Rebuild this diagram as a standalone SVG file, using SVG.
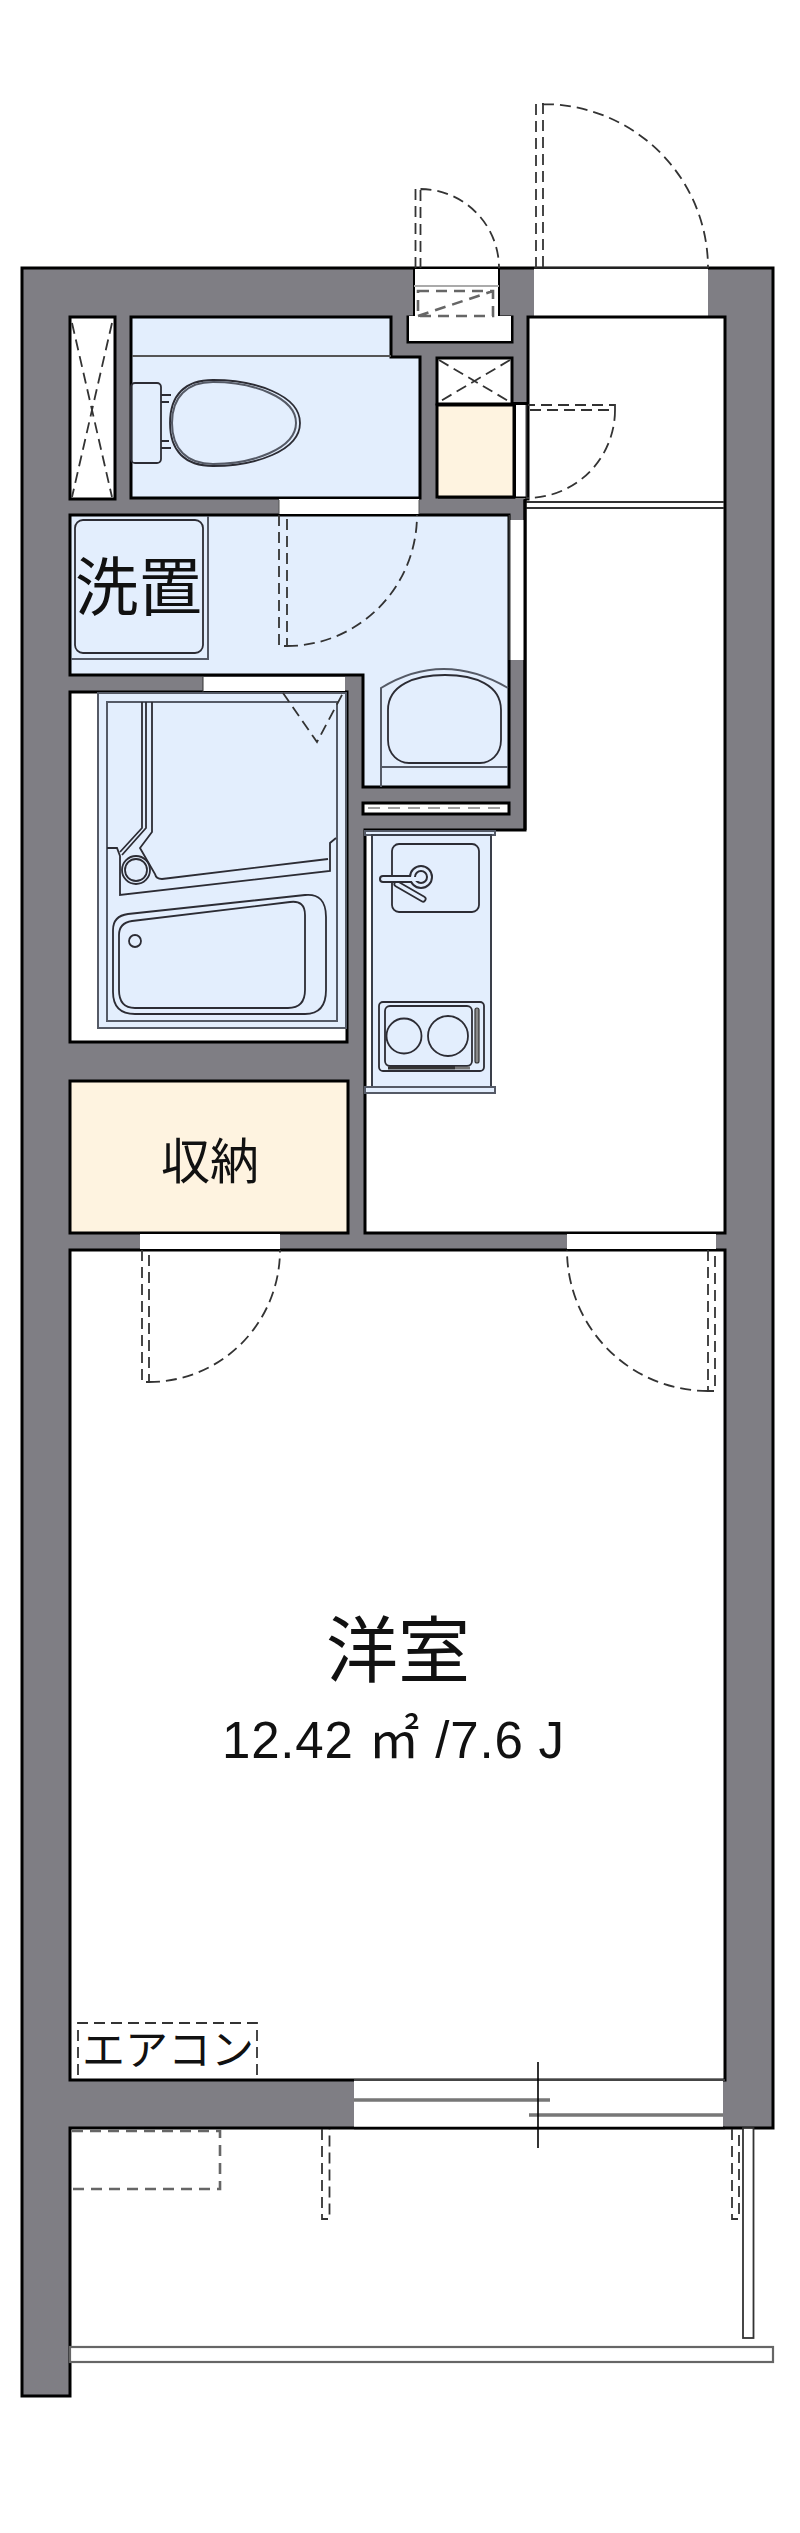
<svg xmlns="http://www.w3.org/2000/svg" width="800" height="2533" viewBox="0 0 800 2533">
<style>
.wall{fill:#7f7e84;stroke:#000;stroke-width:3}
.blue{fill:#e3eefd;stroke:#000;stroke-width:3}
.cream{fill:#fef3e0;stroke:#000;stroke-width:3}
.room{fill:#fff;stroke:#000;stroke-width:3}
.open{fill:#fff;stroke:none}
.dash{fill:none;stroke:#333;stroke-width:1.8;stroke-dasharray:11 6}
.dashg{fill:none;stroke:#666;stroke-width:2.6;stroke-dasharray:11 7}
.fix{fill:none;stroke:#2c2c34;stroke-width:1.8}
.fixg{fill:none;stroke:#555a66;stroke-width:2}
text{font-family:"Noto Sans CJK JP","Liberation Sans",sans-serif;fill:#111}
.num{font-family:"Liberation Sans","Noto Sans CJK JP",sans-serif}
</style>
<rect width="800" height="2533" fill="#fff"/>
<g id="walls">
<path class="wall" d="M22 268H773V2128H70V2396H22Z"/>
</g>
<g id="entrance">
<rect class="open" x="534" y="269" width="174" height="48"/>
<path d="M534 268H708" stroke="#222" stroke-width="2" fill="none"/>
<path class="dash" d="M536 268V104H543V268M543 104A165 164 0 0 1 708 268"/>
</g>
<g id="hall">
<path class="room" d="M528 317H725V1233H365V830H525V499H528Z"/>
<path d="M526 502H724M526 508H724" stroke="#333" stroke-width="1.8"/>
</g>
<g id="utility-niche">
<rect class="open" x="414" y="269" width="85" height="50"/>
<path d="M414 268V317M499 268V317" stroke="#000" stroke-width="2"/>
<path d="M414 286H499" stroke="#aaa" stroke-width="2"/>
<path class="room" d="M414 317H408V342H512V317H499"/>
<rect class="open" x="409" y="316" width="102" height="25"/>
<path class="dashg" d="M418 291H493V316H418ZM418 316L493 291"/>
<path class="dash" d="M415.5 268V189H420.5V268M420.5 189A79 79 0 0 1 499 268"/>
</g>
<g id="shaft-left">
<rect class="room" x="70" y="317" width="45" height="182"/>
<path class="dash" d="M72 323L112 497M112 323L72 497"/>
</g>
<g id="toilet">
<path class="blue" d="M131 317H391V357H420V498H131Z"/>
<path d="M132 356H391" stroke="#555" stroke-width="2"/>
<rect class="fix" x="131" y="383" width="30" height="80" rx="4"/>
<path class="fix" d="M161 395H171M161 402H169M161 448H171M161 441H169"/>
<path class="fix" d="M170 423C170 395 185 380 213 380C255 380 300 395 300 423C300 451 255 466 213 466C185 466 170 451 170 423Z"/>
<path class="fixg" stroke-width="1.2" d="M172 423C172 397 187 382 213 382C252 382 296 397 296 423C296 449 252 464 213 464C187 464 172 449 172 423Z"/>
</g>
<g id="shaft-right">
<rect class="room" x="437" y="358" width="75" height="46"/>
<path class="dash" d="M439 360L510 402M510 360L439 402"/>
</g>
<g id="closet">
<rect class="cream" x="437" y="405" width="77" height="92"/>
<rect class="open" x="515.500" y="403" width="10" height="96"/>
<path d="M526.500 403V499" stroke="#333" stroke-width="1.500"/>
<path d="M512 403.500H528" stroke="#000" stroke-width="3"/>
<path d="M438 497.500H526M515 405V497" stroke="#000" stroke-width="2"/>
<path class="dash" d="M615 410V405H528M530 410H615M615 410A88 88 0 0 1 527 498"/>
</g>
<g id="washroom">
<path class="blue" d="M70 515H509V787H363V675H70Z"/>
<rect class="open" x="510" y="520" width="15" height="140"/>
<path d="M509.500 515V660" stroke="#333" stroke-width="2"/>
<path d="M525 500V830" stroke="#000" stroke-width="3"/>
<rect class="open" x="279" y="499" width="140" height="15"/>
<path d="M279 500V514M419 500V514" stroke="#555" stroke-width="1"/>
<path class="fixg" d="M71 659H208V516"/>
<rect class="fix" x="75" y="520" width="128" height="133" rx="8"/>
<text x="75" y="610" font-size="64" textLength="127" lengthAdjust="spacingAndGlyphs">洗置</text>
<path class="dash" d="M279 515V646H287V515M287 646A130 131 0 0 0 417 515"/>
<path class="fixg" d="M381 787V688Q443 650 508 688"/>
<path class="fix" d="M388 710C388 685 415 675 445 675C475 675 501 685 501 710V740C501 755 490 763 480 763H409C399 763 388 755 388 740Z"/>
<path class="fixg" d="M381 767H508"/>
</g>
<g id="wet-strip">
<rect x="363" y="803" width="146" height="11" fill="#fff" stroke="#000" stroke-width="3"/>
<path d="M368 808H505" stroke="#444" stroke-width="1.200" stroke-dasharray="12 8"/>
</g>
<g id="bath">
<path class="room" d="M70 692H347V1042H70Z"/>
<rect class="open" x="203" y="677" width="142" height="14"/>
<path d="M203 677V692" stroke="#333" stroke-width="1"/>
<rect x="98" y="693" width="248" height="335" fill="#e3eefd" stroke="#555a66" stroke-width="2"/>
<rect class="fixg" x="107" y="702" width="230" height="319"/>
<path class="dash" d="M283 693L317 742L343 693"/>
<path class="fix" d="M142 702V828L120 852M146 702V828L122 855M152 702V832L140 848L155 874Q156 879 162 879L328 859"/>
<path class="fix" d="M107 848H117L120 856V895L330 871V843L336 838"/>
<circle class="fix" cx="136" cy="870" r="14" stroke-width="2.500"/>
<circle class="fix" cx="136" cy="870" r="11"/>
<path class="fix" d="M113 930Q113 916 128 914L305 895Q326 893 326 917V990Q326 1014 305 1014H135Q113 1014 113 992Z"/>
<path class="fix" d="M119 935Q119 923 132 921L290 902Q305 900 305 915V990Q305 1008 288 1008H135Q119 1008 119 990Z"/>
<circle class="fix" cx="135" cy="941" r="6"/>
</g>
<g id="kitchen">
<rect x="365" y="831" width="130" height="4" fill="#e3eefd" stroke="#555a66" stroke-width="2"/>
<rect x="372" y="835" width="119" height="252" fill="#e3eefd" stroke="#3a3f4a" stroke-width="2"/>
<rect x="365" y="1087" width="130" height="6" fill="#e3eefd" stroke="#555a66" stroke-width="2"/>
<rect class="fix" x="392" y="844" width="87" height="68" rx="7"/>
<path d="M397 884L423 899" stroke="#2c2c34" stroke-width="7" stroke-linecap="round"/>
<path d="M397 884L423 899" stroke="#e3eefd" stroke-width="3.500" stroke-linecap="round"/>
<path d="M383 879H417" stroke="#2c2c34" stroke-width="8" stroke-linecap="round"/>
<circle cx="421" cy="877" r="11" fill="#e3eefd" stroke="#2c2c34" stroke-width="2"/>
<circle cx="421" cy="877" r="6" fill="#e3eefd" stroke="#2c2c34" stroke-width="2"/>
<path d="M383 879H418" stroke="#e3eefd" stroke-width="4" stroke-linecap="round"/>
<rect class="fix" x="379" y="1002" width="105" height="69" rx="4" stroke-width="2.200"/>
<rect class="fix" x="385" y="1006" width="87" height="60" rx="5"/>
<circle class="fix" cx="404" cy="1036" r="17.500"/>
<circle class="fix" cx="448" cy="1036" r="20"/>
<rect x="475" y="1008" width="4" height="55" rx="2" fill="#888" stroke="#333" stroke-width="1.200"/>
<path d="M388 1068H455" stroke="#333" stroke-width="3"/>
<path d="M455 1068H470" stroke="#777" stroke-width="3"/>
</g>
<g id="storage">
<rect class="cream" x="70" y="1081" width="278" height="152"/>
<text x="210" y="1179" font-size="49" text-anchor="middle">収納</text>
</g>
<g id="room">
<rect class="room" x="70" y="1250" width="655" height="830"/>
<rect class="open" x="140" y="1234" width="140" height="15"/>
<rect class="open" x="567" y="1234" width="149" height="15"/>
<path class="dash" d="M142 1250V1382H149V1250M149 1382A131 132 0 0 0 280 1250"/>
<path class="dash" d="M708 1250V1391H715V1250M708 1391A141 141 0 0 1 567 1250"/>
<text x="398" y="1676" font-size="72" text-anchor="middle">洋室</text>
<text class="num" x="222" y="1758" font-size="51" textLength="342" lengthAdjust="spacing">12.42 ㎡ /7.6 J</text>
<path class="dash" d="M78 2075V2023H257V2075"/>
<text x="82" y="2065" font-size="42" textLength="172" lengthAdjust="spacingAndGlyphs">エアコン</text>
</g>
<g id="window">
<rect class="open" x="354" y="2081" width="369" height="46"/>
<path d="M354 2080H725" stroke="#444" stroke-width="2"/>
<path d="M354 2128H725" stroke="#000" stroke-width="2.500"/>
<path d="M354 2100H550M529 2115H723" stroke="#777" stroke-width="3.500"/>
<path d="M538 2062V2148" stroke="#000" stroke-width="1.600"/>
</g>
<g id="balcony">
<path class="dashg" d="M72 2131H220V2189H72"/>
<path class="dash" d="M322 2129V2219H329.500V2129"/>
<path class="dash" d="M732 2129V2219H739V2129"/>
<rect x="743" y="2128" width="10.500" height="210" fill="#fff" stroke="#333" stroke-width="1.800"/>
<rect x="70" y="2347" width="703" height="15" fill="#fff" stroke="#666" stroke-width="2.200"/>
</g>
</svg>
